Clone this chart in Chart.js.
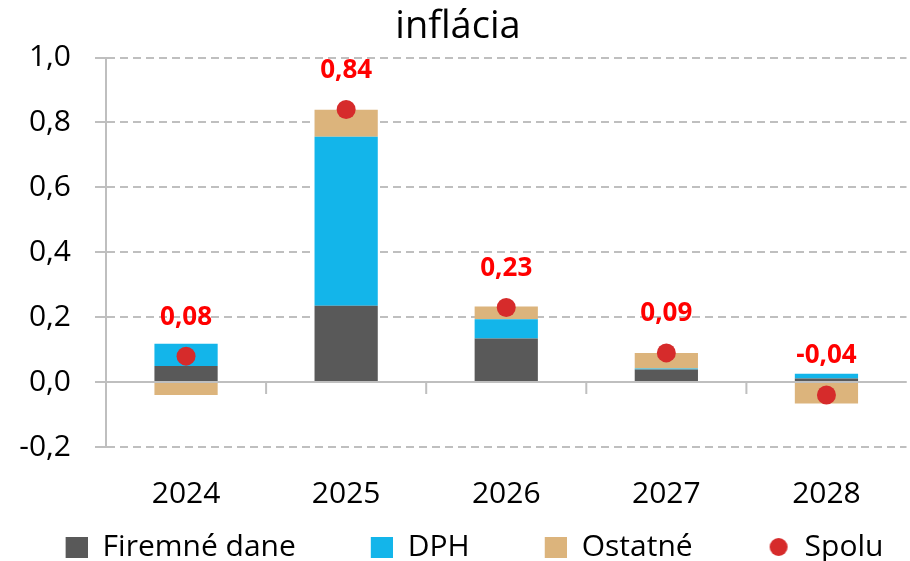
<!DOCTYPE html>
<html>
<head>
<meta charset="utf-8">
<script src="https://cdn.jsdelivr.net/npm/chart.js@4"></script>
<style>
  body { margin: 0; overflow: hidden; background: #fff; }
</style>
</head>
<body>
<canvas id="myChart" width="916" height="572"></canvas>
<script>
// data
var years = ["2024", "2025", "2026", "2027", "2028"];
var firemne = [0.05, 0.235, 0.134, 0.039, 0.011];
var dph = [0.068, 0.521, 0.06, 0.003, 0.015];
var ostatne = [-0.04, 0.083, 0.039, 0.048, -0.066];
var spolu = [0.08, 0.84, 0.23, 0.09, -0.04];
var yTicks = [-0.2, 0.0, 0.2, 0.4, 0.6, 0.8, 1.0];

var FONT = "'Open Sans', sans-serif";
var GRID = "#bfbfbf";
var colors = ["#595959", "#13b5ea", "#dcb47c", "#d62b2b"];
var MARK_W = 55; // legend marker canvas, the blank left part makes the gap between items

function comma(v, d) {
  return v.toFixed(d).replace(".", ",");
}

// legend markers: square / dot drawn at the right end of a wide canvas
function marker(kind, color) {
  var c = document.createElement("canvas");
  c.width = MARK_W; c.height = 22;
  var g = c.getContext("2d");
  g.fillStyle = color;
  if (kind == "circle") {
    g.beginPath();
    g.arc(MARK_W - 11, 11, 9, 0, Math.PI * 2);
    g.fill();
  } else {
    g.fillRect(MARK_W - 22, 1, 22, 21);
  }
  return c;
}

// solid zero line + category tick marks hanging below it
var zeroAxis = {
  id: "zeroAxis",
  beforeDatasetsDraw: function (chart) {
    var ctx = chart.ctx, xs = chart.scales.x, ys = chart.scales.y;
    var area = chart.chartArea;
    var y0 = ys.getPixelForValue(0);
    ctx.save();
    ctx.strokeStyle = GRID;
    ctx.lineWidth = 2;
    ctx.beginPath();
    ctx.moveTo(area.left, y0);
    ctx.lineTo(area.right, y0);
    for (var i = 1; i < years.length; i++) {
      var x = (xs.getPixelForValue(i - 1) + xs.getPixelForValue(i)) / 2;
      ctx.moveTo(x, y0);
      ctx.lineTo(x, y0 + 12);
    }
    ctx.stroke();
    ctx.restore();
  }
};

// red value labels above the Spolu dots
var totalLabels = {
  id: "totalLabels",
  afterDatasetsDraw: function (chart) {
    var ctx = chart.ctx;
    var meta = chart.getDatasetMeta(3);
    ctx.save();
    ctx.font = "bold 26px " + FONT;
    ctx.fillStyle = "#ff0000";
    ctx.textAlign = "center";
    ctx.textBaseline = "middle";
    meta.data.forEach(function (pt, i) {
      ctx.fillText(comma(spolu[i], 2), pt.x, pt.y - 39);
    });
    ctx.restore();
  }
};

new Chart("myChart", {
  data: {
    labels: years,
    datasets: [
      { type: "bar", label: "Firemné dane", data: firemne, backgroundColor: colors[0], stack: "s", order: 2 },
      { type: "bar", label: "DPH", data: dph, backgroundColor: colors[1], stack: "s", order: 2 },
      { type: "bar", label: "Ostatné", data: ostatne, backgroundColor: colors[2], stack: "s", order: 2 },
      { type: "line", label: "Spolu", data: spolu, showLine: false,
        pointRadius: 9.5, pointHoverRadius: 9.5, pointBackgroundColor: colors[3],
        pointBorderWidth: 0, borderColor: colors[3], backgroundColor: colors[3],
        stack: "total", order: 1 }
    ]
  },
  options: {
    responsive: false,
    animation: false,
    datasets: { bar: { categoryPercentage: 1, barPercentage: 0.395 } },
    plugins: {
      tooltip: { enabled: false },
      title: {
        display: true,
        text: "inflácia",
        color: "#000",
        font: { family: FONT, size: 38, weight: "normal" },
        padding: { top: 4, bottom: 8 }
      },
      legend: {
        position: "bottom",
        labels: {
          color: "#000",
          font: { family: FONT, size: 30, lineHeight: 0.8 },
          usePointStyle: true,
          pointStyleWidth: MARK_W,
          padding: 3,
          sort: function (a, b) { return a.datasetIndex - b.datasetIndex; },
          generateLabels: function (chart) {
            var items = Chart.defaults.plugins.legend.labels.generateLabels(chart);
            items.forEach(function (it) {
              var i = it.datasetIndex;
              it.pointStyle = marker(i == 3 ? "circle" : "rect", colors[i]);
              if (i < 3) it.text = it.text + "     ";
            });
            return items;
          }
        }
      }
    },
    scales: {
      x: {
        stacked: true,
        grid: { display: false, drawTicks: false },
        border: { display: false },
        ticks: { color: "#000", font: { family: FONT, size: 30 }, padding: 29 },
        afterFit: function (s) { s.height = 82; }
      },
      y: {
        stacked: true,
        min: yTicks[0],
        max: yTicks[yTicks.length - 1],
        afterBuildTicks: function (s) {
          s.ticks = yTicks.map(function (v) { return { value: v }; });
        },
        grid: { color: GRID, lineWidth: 2, tickLength: 11, tickColor: GRID, tickWidth: 2 },
        border: { display: true, color: GRID, width: 2, dash: [8, 5] },
        ticks: {
          color: "#000",
          font: { family: FONT, size: 30 },
          padding: 24,
          callback: function (v) { return comma(v, 1); }
        },
        afterFit: function (s) { s.width = 106; }
      }
    }
  },
  plugins: [zeroAxis, totalLabels]
});
</script>
</body>
</html>
